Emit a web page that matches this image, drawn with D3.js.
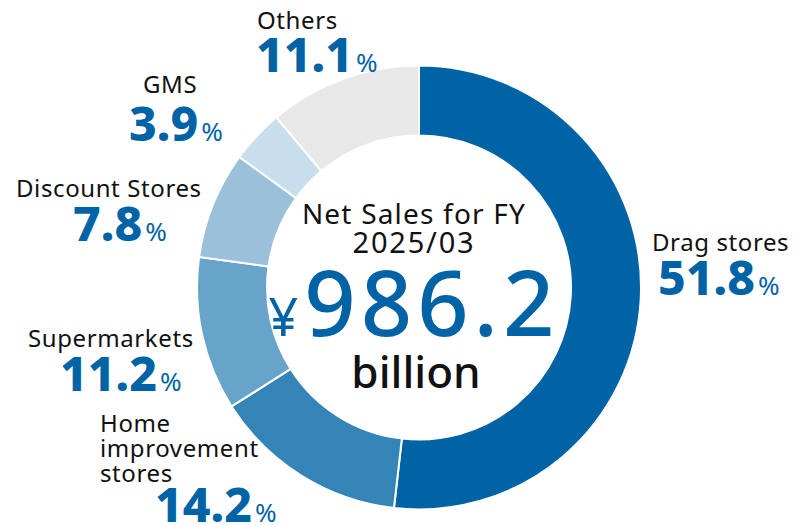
<!DOCTYPE html>
<html>
<head>
<meta charset="utf-8">
<script src="https://cdn.jsdelivr.net/npm/d3@7"></script>
<style>
  html, body { margin: 0; padding: 0; background: #fff; }
  #chart { width: 804px; height: 525px; }
  text { font-family: "Noto Sans", "DejaVu Sans", sans-serif; }
</style>
</head>
<body>
<div id="chart"></div>
<script>
// Segment data (clockwise from 12 o'clock)
const categories = ['Drag stores', 'Home improvement stores', 'Supermarkets', 'Discount Stores', 'GMS', 'Others'];
const shares = [51.8, 14.2, 11.2, 7.8, 3.9, 11.1];
const segmentColors = ['#0063a5', '#3584b8', '#68a3c9', '#9bc0da', '#c9deed', '#e8e8e8'];

// Center caption
const titleLines = ['Net Sales for FY', '2025/03'];
const totalValue = '986.2';
const totalUnit = 'billion';

// Label placement (layout only)
const labelLayout = {
    'Drag stores':             { lines: ['Drag stores'], nx: 652, ny: 251, px: 658, py: 295 },
    'Home improvement stores': { lines: ['Home', 'improvement', 'stores'], nx: 100, ny: 432, px: 155, py: 522 },
    'Supermarkets':            { lines: ['Supermarkets'], nx: 28, ny: 347, px: 60, py: 391 },
    'Discount Stores':         { lines: ['Discount Stores'], nx: 16, ny: 197, px: 73, py: 241 },
    'GMS':                     { lines: ['GMS'], nx: 143, ny: 93, px: 129, py: 141 },
    'Others':                  { lines: ['Others'], nx: 257, ny: 29, px: 256, py: 72 }
};

const width = 804, height = 525;
const cx = 419, cy = 287.5;
const outerR = 222, innerR = 152;
const blue = '#0063a5';

const svg = d3.select('#chart').append('svg')
    .attr('width', width)
    .attr('height', height);

const data = categories.map((c, i) => ({ name: c, value: shares[i], color: segmentColors[i] }));

const pie = d3.pie()
    .sort(null)
    .value(d => d.value);

const arc = d3.arc()
    .innerRadius(innerR)
    .outerRadius(outerR);

const g = svg.append('g')
    .attr('transform', `translate(${cx},${cy})`);

g.selectAll('path')
    .data(pie(data))
    .enter().append('path')
    .attr('d', arc)
    .attr('fill', d => d.data.color)
    .attr('stroke', '#fff')
    .attr('stroke-width', 2);

// -------------- Center caption --------------
const center = svg.append('g');

center.selectAll('.title')
    .data(titleLines)
    .enter().append('text')
    .attr('class', 'title')
    .attr('x', 414)
    .attr('y', (d, i) => 224 + i * 29)
    .attr('text-anchor', 'middle')
    .style('font-size', (d, i) => i === 0 ? '28px' : '29px')
    .style('letter-spacing', (d, i) => i === 0 ? '1.2px' : '1.8px')
    .style('fill', '#111')
    .text(d => d);

const total = center.append('text')
    .attr('x', 414)
    .attr('y', 336)
    .attr('text-anchor', 'middle')
    .style('fill', blue);
total.append('tspan')
    .style('font-size', '52px')
    .text('¥');
total.append('tspan')
    .attr('dx', 6)
    .style('font-size', '90px')
    .style('font-weight', 500)
    .style('letter-spacing', '5px')
    .text(totalValue);

center.append('text')
    .attr('x', 416)
    .attr('y', 388)
    .attr('text-anchor', 'middle')
    .style('font-size', '44px')
    .style('font-weight', 500)
    .style('fill', '#111')
    .text(totalUnit);

// -------------- Segment labels --------------
data.forEach(d => {
    const lay = labelLayout[d.name];
    const lbl = svg.append('g').attr('class', 'seg-label');

    lbl.selectAll('.name')
        .data(lay.lines)
        .enter().append('text')
        .attr('class', 'name')
        .attr('x', lay.nx)
        .attr('y', (t, i) => lay.ny + i * 25)
        .style('font-size', '24px')
        .style('letter-spacing', '0.6px')
        .style('fill', '#111')
        .text(t => t);

    const pct = lbl.append('text')
        .attr('x', lay.px)
        .attr('y', lay.py)
        .style('fill', blue);
    pct.append('tspan')
        .style('font-size', '48px')
        .style('font-weight', 800)
        .text(d3.format('.1f')(d.value));
    pct.append('tspan')
        .attr('dx', 3)
        .style('font-size', '26px')
        .text('%');
});
</script>
</body>
</html>
